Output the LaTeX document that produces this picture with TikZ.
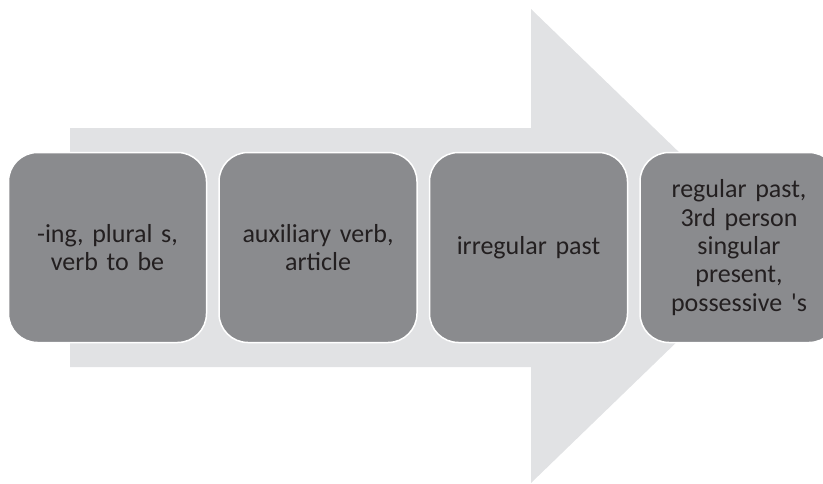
\documentclass[tikz,border=0pt]{standalone}
\usepackage{fontspec}
\setmainfont{Carlito}
\usetikzlibrary{positioning}

\definecolor{arrowgray}{RGB}{225,226,228}
\definecolor{stagegray}{RGB}{138,139,142}
\definecolor{stagetext}{RGB}{35,31,32}

\tikzset{
    stage/.style={draw=white, line width=1.5pt, fill=stagegray,
        rounded corners=29pt, minimum width=198pt, minimum height=190pt,
        text width=190pt, align=center, text=stagetext,
        font=\fontsize{26}{28.3}\selectfont, inner sep=0pt},
}

\begin{document}
\begin{tikzpicture}[x=1pt, y=-1pt]
    \useasboundingbox (0, 0) rectangle (823, 483);
    \begin{scope}
        % big background arrow
        \fill[arrowgray] (70, 128) -- (531, 128) -- (531, 9)
            -- (776, 246) -- (531, 483) -- (531, 367)
            -- (70, 367) -- cycle;
    \end{scope}
    \begin{scope}
        \node[stage] (ing) at (107.5, 247.5) {-ing, plural s,\\verb to be};
        \node[stage, right=11pt of ing] (aux) {auxiliary verb,\\article};
        \node[stage, right=11pt of aux] (irr) {irregular past};
        \node[stage, right=11pt of irr] (reg)
            {regular past,\\3rd person\\singular\\present,\\possessive \textquotesingle s};
    \end{scope}
\end{tikzpicture}
\end{document}
